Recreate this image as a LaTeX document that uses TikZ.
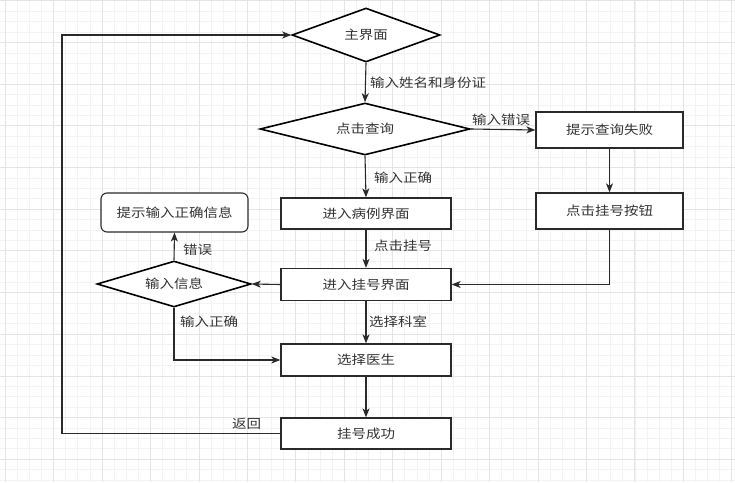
\documentclass[tikz,border=0pt]{standalone}
\usepackage{fontspec}
\usetikzlibrary{shapes.geometric,arrows.meta}
\newfontfamily\cjk[FakeStretch=1.16]{Noto Sans CJK SC}
\definecolor{gridminor}{HTML}{F3F3F3}
\definecolor{gridmajor}{HTML}{E4E4E4}
\definecolor{ink}{HTML}{2A2A2A}
\definecolor{txt}{HTML}{333333}
\begin{document}
\begin{tikzpicture}[x=1pt,y=-1pt,
  every node/.style={font=\cjk\fontsize{12.5}{14}\selectfont, text=txt},
  dia/.style={diamond, draw=black, line width=1.6pt, inner sep=0pt, fill=white},
  box/.style={rectangle, draw=ink, line width=1.3pt, inner sep=0pt, fill=white, minimum width=170pt},
  rbox/.style={rectangle, rounded corners=6pt, draw=ink, line width=1.1pt, inner sep=0pt, fill=white},
  conn/.style={draw=ink, line width=1.1pt, -{Stealth[length=9pt,width=7pt,inset=2.5pt]}},
  lab/.style={inner sep=0pt, anchor=west}]
% background and grid
\fill[white] (0,0) rectangle (735,482);
\useasboundingbox (0,0) rectangle (735,482);
\foreach \i in {0,...,60} {\draw[gridminor, line width=0.6pt] ({5.1+12.11*\i},0) -- ({5.1+12.11*\i},482);}
\foreach \i in {0,...,46} {\draw[gridminor, line width=0.6pt] (0,{0.7+10.42*\i}) -- (735,{0.7+10.42*\i});}
\foreach \i in {0,...,15} {\draw[gridmajor, line width=0.7pt] ({5.1+48.44*\i},0) -- ({5.1+48.44*\i},482);}
\foreach \i in {0,...,11} {\draw[gridmajor, line width=0.7pt] (0,{0.7+41.69*\i}) -- (735,{0.7+41.69*\i});}
% nodes
\node[dia, aspect=2.7, minimum width=148pt, minimum height=54pt] (main) at (366,35) {主界面};
\node[dia, aspect=4, minimum width=210pt, minimum height=52pt] (check) at (365,129) {点击查询};
\node[box, minimum width=147pt, minimum height=36pt] (fail) at (609.5,130) {提示查询失败};
\node[box, minimum width=147pt, minimum height=36pt] (btn) at (609.5,211) {点击挂号按钮};
\node[box, minimum height=31pt] (case) at (366,213.5) {进入病例界面};
\node[box, minimum height=32pt] (reg) at (366,284.5) {进入挂号界面};
\node[dia, aspect=3.3, minimum width=154pt, minimum height=46pt] (info) at (174,284) {输入信息};
\node[rbox, minimum width=147pt, minimum height=39pt] (hint) at (174.5,212.5) {提示输入正确信息};
\node[box, minimum height=32pt] (doc) at (366,360) {选择医生};
\node[box, minimum height=31pt] (ok) at (366,433.5) {挂号成功};
\coordinate (c1) at (609.5,284.5);
\coordinate (c2) at (174,360);
\coordinate (c3) at (62,433.5);
\coordinate (c4) at (62,35);
% connectors
\draw[conn] (main.south) -- (check.north);
\draw[conn] (check.east) -- (fail.west);
\draw[conn] (fail.south) -- (btn.north);
\draw[conn] (btn.south) -- (c1) -- (reg.east);
\draw[conn] (check.south) -- (case.north);
\draw[conn] (case.south) -- (reg.north);
\draw[conn] (reg.west) -- (info.east);
\draw[conn] (info.north) -- (hint.south);
\draw[conn] (info.south) -- (c2) -- (doc.west);
\draw[conn] (reg.south) -- (doc.north);
\draw[conn] (doc.south) -- (ok.north);
\draw[conn] (ok.west) -- (c3) -- (c4) -- (main.west);
% labels
\node[lab] (l1) at (370,83) {输入姓名和身份证};
\node[lab] (l2) at (472,120) {输入错误};
\node[lab] (l3) at (374,178) {输入正确};
\node[lab] (l4) at (374,246) {点击挂号};
\node[lab] (l5) at (183,250) {错误};
\node[lab] (l6) at (180,322) {输入正确};
\node[lab] (l7) at (369,322) {选择科室};
\node[lab] (l8) at (232,424) {返回};
\end{tikzpicture}
\end{document}
